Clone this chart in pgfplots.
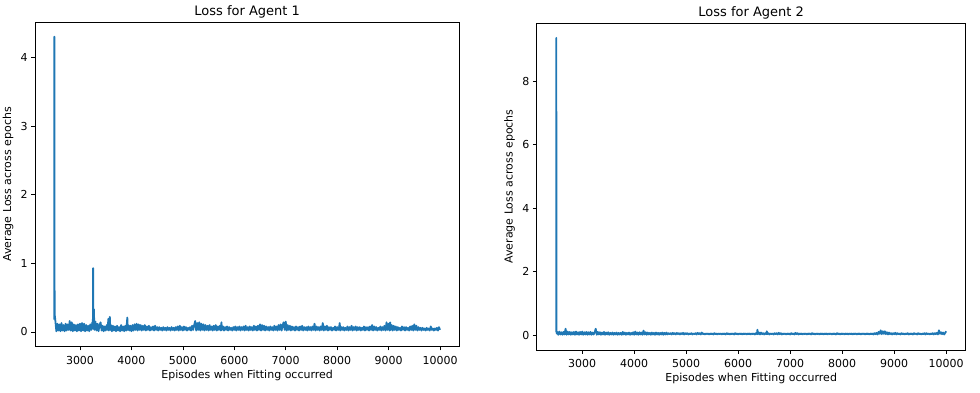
\documentclass[border=0pt]{standalone}
\usepackage{fontspec}
\setmainfont{DejaVu Sans}
\usepackage{pgfplots}
\pgfplotsset{compat=1.18}
\definecolor{mplblue}{HTML}{1F77B4}
\pgfplotsset{
  mplstyle/.style={
    scale only axis,
    anchor=south west,
    xmin=2125, xmax=10375,
    axis line style={black, line width=0.6pt},
    tick align=outside,
    xtick pos=left, ytick pos=left,
    major tick length=3.8pt,
    every tick/.style={black, line width=0.6pt},
    tick label style={font=\fontsize{11}{13}\selectfont},
    xticklabel style={yshift=-2pt},
    label style={font=\fontsize{11}{13}\selectfont},
    every axis title shift=0pt,
    title style={font=\fontsize{13}{15}\selectfont, at={(axis description cs:0.5,1)}, anchor=base, yshift=6pt},
    /pgf/number format/assume math mode=true,
    /pgf/number format/set thousands separator={},
    scaled ticks=false,
    xtick={3000,4000,...,10000},
    xlabel={Episodes when Fitting occurred},
    ylabel={Average Loss across epochs},
    xlabel style={at={(axis description cs:0.5,0)}, anchor=center, yshift=-28.5pt},
    ylabel style={at={(axis description cs:0,0.5)}, anchor=center, yshift=27pt},
  }
}
\begin{document}
\begin{tikzpicture}
\begin{axis}[mplstyle, at={(35pt,46.3pt)}, width=424.3pt, height=324.7pt,
  ymin=-0.215, ymax=4.515, ytick={0,1,2,3,4}, title={Loss for Agent 1}]
\addplot[mplblue, line width=1.8pt, line join=round] coordinates {
(2500,0.18)(2502,4.30)(2505,0.70)(2510,0.24)
(2520,0.17)(2540,0.01)(2560,0.12)(2580,0.02)(2600,0.11)(2620,0.01)(2640,0.13)(2660,0.02)(2680,0.10)(2700,0.01)
(2720,0.12)(2740,0.02)(2760,0.11)(2780,0.03)(2800,0.16)(2820,0.02)(2840,0.14)(2860,0.01)(2880,0.11)(2900,0.02)
(2920,0.10)(2940,0.01)(2960,0.11)(2980,0.02)(3000,0.12)(3020,0.01)(3040,0.13)(3060,0.02)(3080,0.12)(3100,0.01)
(3120,0.10)(3140,0.02)(3160,0.09)(3180,0.01)(3200,0.11)(3220,0.03)(3240,0.14)(3250,0.05)(3255,0.93)(3260,0.10)(3270,0.33)(3280,0.03)
(3300,0.15)(3320,0.02)(3340,0.12)(3360,0.01)(3380,0.10)(3400,0.14)(3420,0.02)(3440,0.09)(3460,0.01)(3480,0.08)
(3500,0.02)(3520,0.10)(3540,0.03)(3550,0.19)(3560,0.02)(3570,0.12)(3580,0.22)(3590,0.03)(3600,0.10)(3620,0.01)
(3640,0.09)(3660,0.02)(3680,0.08)(3700,0.01)(3720,0.09)(3740,0.02)(3760,0.07)(3780,0.01)(3800,0.10)(3820,0.02)
(3840,0.08)(3860,0.01)(3880,0.09)(3900,0.02)(3920,0.21)(3930,0.03)(3940,0.10)(3960,0.02)(3980,0.09)(4000,0.01)
(4020,0.10)(4040,0.02)(4060,0.11)(4080,0.03)(4100,0.12)(4120,0.02)(4140,0.11)(4160,0.03)(4180,0.10)(4200,0.02)
(4220,0.09)(4240,0.03)(4260,0.10)(4280,0.02)(4300,0.08)(4320,0.03)(4340,0.09)(4360,0.02)(4380,0.07)(4400,0.03)
(4420,0.08)(4440,0.02)(4460,0.09)(4480,0.03)(4500,0.07)(4520,0.02)(4540,0.07)(4560,0.03)(4580,0.06)(4600,0.02)
(4620,0.07)(4640,0.03)(4660,0.06)(4680,0.02)(4700,0.07)(4720,0.03)(4740,0.06)(4760,0.02)(4780,0.07)(4800,0.03)
(4820,0.06)(4840,0.02)(4860,0.07)(4880,0.03)(4900,0.08)(4920,0.02)(4940,0.09)(4960,0.03)(4980,0.07)(5000,0.02)
(5020,0.08)(5040,0.03)(5060,0.07)(5080,0.02)(5100,0.06)(5120,0.03)(5140,0.07)(5160,0.02)(5180,0.09)(5200,0.03)
(5220,0.10)(5240,0.16)(5260,0.02)(5280,0.13)(5300,0.03)(5320,0.14)(5340,0.02)(5360,0.12)(5380,0.03)(5400,0.11)
(5420,0.02)(5440,0.10)(5460,0.03)(5480,0.09)(5500,0.02)(5520,0.10)(5540,0.03)(5560,0.08)(5580,0.02)(5600,0.09)
(5620,0.03)(5640,0.10)(5660,0.02)(5680,0.08)(5700,0.03)(5720,0.09)(5740,0.02)(5750,0.14)(5760,0.03)(5780,0.08)
(5800,0.02)(5820,0.07)(5840,0.03)(5860,0.08)(5880,0.02)(5900,0.07)(5920,0.03)(5940,0.06)(5960,0.02)(5980,0.07)
(6000,0.03)(6020,0.08)(6040,0.02)(6060,0.07)(6080,0.03)(6100,0.08)(6120,0.02)(6140,0.07)(6160,0.03)(6180,0.08)
(6200,0.02)(6220,0.09)(6240,0.03)(6260,0.07)(6280,0.02)(6300,0.08)(6320,0.03)(6340,0.07)(6360,0.02)(6380,0.09)
(6400,0.03)(6420,0.08)(6440,0.02)(6460,0.09)(6480,0.03)(6500,0.11)(6520,0.02)(6540,0.10)(6560,0.03)(6580,0.09)
(6600,0.02)(6620,0.08)(6640,0.03)(6660,0.07)(6680,0.02)(6700,0.08)(6720,0.03)(6740,0.07)(6760,0.02)(6780,0.09)
(6800,0.03)(6820,0.08)(6840,0.02)(6860,0.10)(6880,0.03)(6900,0.11)(6920,0.02)(6940,0.10)(6960,0.14)(6980,0.03)
(7000,0.15)(7020,0.02)(7040,0.10)(7060,0.03)(7080,0.09)(7100,0.02)(7120,0.08)(7140,0.03)(7160,0.07)(7180,0.02)
(7200,0.08)(7220,0.03)(7240,0.07)(7260,0.02)(7280,0.08)(7300,0.03)(7320,0.09)(7340,0.02)(7360,0.07)(7380,0.03)
(7400,0.07)(7420,0.02)(7440,0.08)(7460,0.03)(7480,0.07)(7500,0.02)(7520,0.08)(7540,0.03)(7560,0.12)(7580,0.02)
(7600,0.08)(7620,0.03)(7640,0.07)(7660,0.02)(7680,0.08)(7700,0.03)(7720,0.13)(7740,0.02)(7760,0.08)(7780,0.03)
(7800,0.09)(7820,0.02)(7840,0.07)(7860,0.03)(7880,0.07)(7900,0.02)(7920,0.06)(7940,0.03)(7960,0.08)(7980,0.02)
(8000,0.07)(8020,0.03)(8040,0.08)(8050,0.13)(8060,0.02)(8080,0.07)(8100,0.03)(8120,0.07)(8140,0.02)(8160,0.06)
(8180,0.03)(8200,0.08)(8220,0.02)(8240,0.07)(8260,0.03)(8280,0.09)(8300,0.02)(8320,0.07)(8340,0.03)(8360,0.08)
(8380,0.02)(8400,0.07)(8420,0.03)(8440,0.07)(8460,0.02)(8480,0.06)(8500,0.03)(8520,0.08)(8540,0.02)(8560,0.07)
(8580,0.03)(8600,0.07)(8620,0.02)(8640,0.08)(8660,0.03)(8680,0.10)(8700,0.02)(8720,0.08)(8740,0.03)(8760,0.07)
(8780,0.02)(8800,0.06)(8820,0.03)(8840,0.08)(8860,0.02)(8880,0.07)(8900,0.03)(8920,0.09)(8940,0.02)(8960,0.14)
(8980,0.03)(9000,0.12)(9020,0.02)(9030,0.14)(9040,0.03)(9060,0.10)(9080,0.02)(9100,0.09)(9120,0.03)(9140,0.08)
(9160,0.02)(9180,0.07)(9200,0.03)(9220,0.06)(9240,0.02)(9260,0.08)(9280,0.03)(9300,0.07)(9320,0.02)(9340,0.07)
(9360,0.03)(9380,0.06)(9400,0.02)(9420,0.08)(9440,0.03)(9460,0.09)(9480,0.02)(9500,0.11)(9520,0.03)(9540,0.09)
(9560,0.02)(9580,0.07)(9600,0.03)(9620,0.06)(9640,0.02)(9660,0.06)(9680,0.03)(9700,0.05)(9720,0.02)(9740,0.06)
(9760,0.03)(9780,0.05)(9800,0.02)(9820,0.08)(9840,0.03)(9860,0.05)(9880,0.02)(9900,0.05)(9920,0.03)(9940,0.06)
(9960,0.02)(9980,0.07)(10000,0.03)
};
\end{axis}
\begin{axis}[mplstyle, at={(536.7pt,43pt)}, width=429pt, height=327pt,
  ymin=-0.47, ymax=9.84, ytick={0,2,4,6,8}, title={Loss for Agent 2}]
\addplot[mplblue, line width=1.8pt, line join=round] coordinates {
(2500,0.10)(2502,9.37)(2505,0.15)(2510,0.05)
(2520,0.10)(2540,0.01)(2560,0.11)(2580,0.02)(2600,0.09)(2620,0.01)(2640,0.10)(2660,0.02)(2680,0.20)(2700,0.01)
(2720,0.11)(2740,0.02)(2760,0.10)(2780,0.01)(2800,0.09)(2820,0.02)(2840,0.10)(2860,0.01)(2880,0.11)(2900,0.02)
(2920,0.09)(2940,0.01)(2960,0.10)(2980,0.02)(3000,0.11)(3020,0.01)(3040,0.09)(3060,0.02)(3080,0.10)(3100,0.01)
(3120,0.09)(3140,0.02)(3160,0.10)(3180,0.01)(3200,0.08)(3220,0.02)(3240,0.09)(3260,0.20)(3280,0.01)(3300,0.10)
(3320,0.02)(3340,0.09)(3360,0.01)(3380,0.08)(3400,0.02)(3420,0.10)(3440,0.01)(3460,0.08)(3480,0.02)(3500,0.09)
(3520,0.01)(3540,0.07)(3560,0.02)(3580,0.08)(3600,0.01)(3620,0.07)(3640,0.02)(3660,0.08)(3680,0.01)(3700,0.07)
(3720,0.02)(3740,0.07)(3760,0.01)(3780,0.10)(3800,0.02)(3820,0.08)(3840,0.01)(3860,0.07)(3880,0.02)(3900,0.08)
(3920,0.01)(3940,0.07)(3960,0.02)(3980,0.09)(4000,0.01)(4020,0.11)(4040,0.02)(4060,0.08)(4080,0.01)(4100,0.09)
(4120,0.02)(4140,0.08)(4160,0.01)(4180,0.14)(4200,0.02)(4220,0.09)(4240,0.01)(4260,0.08)(4280,0.02)(4300,0.07)
(4320,0.01)(4340,0.08)(4360,0.02)(4380,0.07)(4400,0.01)(4420,0.08)(4440,0.02)(4460,0.07)(4480,0.01)(4500,0.07)
(4520,0.02)(4540,0.08)(4560,0.01)(4580,0.07)(4600,0.02)(4620,0.08)(4640,0.02)(4660,0.06)(4680,0.03)(4700,0.06)
(4720,0.02)(4740,0.07)(4760,0.03)(4780,0.06)(4800,0.02)(4820,0.07)(4840,0.03)(4860,0.06)(4880,0.02)(4900,0.06)
(4920,0.03)(4940,0.07)(4960,0.02)(4980,0.06)(5000,0.03)(5020,0.06)(5040,0.02)(5060,0.05)(5080,0.03)(5100,0.06)
(5120,0.02)(5140,0.05)(5160,0.03)(5180,0.06)(5200,0.02)(5220,0.07)(5240,0.03)(5260,0.06)(5280,0.02)(5300,0.08)
(5320,0.03)(5340,0.05)(5360,0.02)(5380,0.05)(5400,0.03)(5420,0.05)(5440,0.02)(5460,0.05)(5480,0.03)(5500,0.05)
(5520,0.02)(5540,0.06)(5560,0.03)(5580,0.05)(5600,0.02)(5620,0.05)(5640,0.03)(5660,0.05)(5680,0.02)(5700,0.05)
(5720,0.03)(5740,0.05)(5760,0.02)(5780,0.06)(5800,0.03)(5820,0.05)(5840,0.02)(5860,0.05)(5880,0.03)(5900,0.05)
(5920,0.02)(5940,0.06)(5960,0.03)(5980,0.05)(6000,0.02)(6020,0.05)(6040,0.03)(6060,0.05)(6080,0.02)(6100,0.05)
(6120,0.03)(6140,0.05)(6160,0.02)(6180,0.05)(6200,0.03)(6220,0.05)(6240,0.02)(6260,0.05)(6280,0.03)(6300,0.05)
(6320,0.02)(6340,0.06)(6360,0.03)(6370,0.17)(6380,0.03)(6400,0.08)(6420,0.02)(6440,0.08)(6460,0.03)(6480,0.06)
(6500,0.02)(6520,0.06)(6540,0.03)(6550,0.12)(6560,0.03)(6580,0.06)(6600,0.02)(6620,0.05)(6640,0.03)(6660,0.05)
(6680,0.02)(6700,0.06)(6720,0.03)(6740,0.06)(6760,0.02)(6780,0.07)(6800,0.03)(6820,0.06)(6840,0.02)(6860,0.05)
(6880,0.03)(6900,0.05)(6920,0.02)(6940,0.05)(6960,0.03)(6980,0.05)(7000,0.02)(7020,0.06)(7040,0.03)(7060,0.05)
(7080,0.02)(7100,0.07)(7120,0.03)(7140,0.06)(7160,0.02)(7180,0.05)(7200,0.03)(7220,0.05)(7240,0.02)(7260,0.05)
(7280,0.03)(7300,0.05)(7320,0.02)(7340,0.05)(7360,0.03)(7380,0.05)(7400,0.02)(7420,0.06)(7440,0.03)(7460,0.05)
(7480,0.02)(7500,0.05)(7520,0.03)(7540,0.05)(7560,0.02)(7580,0.05)(7600,0.03)(7620,0.05)(7640,0.02)(7660,0.05)
(7680,0.03)(7700,0.05)(7720,0.02)(7740,0.05)(7760,0.03)(7780,0.05)(7800,0.02)(7820,0.05)(7840,0.03)(7860,0.05)
(7880,0.02)(7900,0.06)(7920,0.03)(7940,0.05)(7960,0.02)(7980,0.05)(8000,0.03)(8020,0.05)(8040,0.02)(8060,0.05)
(8080,0.03)(8100,0.05)(8120,0.02)(8140,0.05)(8160,0.03)(8180,0.05)(8200,0.02)(8220,0.05)(8240,0.03)(8260,0.05)
(8280,0.02)(8300,0.05)(8320,0.03)(8340,0.05)(8360,0.02)(8380,0.05)(8400,0.03)(8420,0.05)(8440,0.02)(8460,0.05)
(8480,0.03)(8500,0.05)(8520,0.02)(8540,0.05)(8560,0.03)(8580,0.05)(8600,0.02)(8620,0.06)(8640,0.03)(8660,0.07)
(8680,0.02)(8700,0.10)(8720,0.04)(8740,0.15)(8760,0.03)(8780,0.12)(8800,0.04)(8820,0.12)(8840,0.03)(8860,0.09)
(8880,0.02)(8900,0.08)(8920,0.03)(8940,0.06)(8960,0.02)(8980,0.06)(9000,0.03)(9020,0.07)(9040,0.02)(9060,0.06)
(9080,0.03)(9100,0.05)(9120,0.02)(9140,0.06)(9160,0.03)(9180,0.05)(9200,0.02)(9220,0.05)(9240,0.03)(9260,0.06)
(9280,0.02)(9300,0.05)(9320,0.03)(9340,0.05)(9360,0.02)(9380,0.06)(9400,0.03)(9420,0.05)(9440,0.02)(9460,0.06)
(9480,0.03)(9500,0.05)(9520,0.02)(9540,0.05)(9560,0.03)(9580,0.06)(9600,0.02)(9620,0.06)(9640,0.03)(9660,0.05)
(9680,0.02)(9700,0.05)(9720,0.03)(9740,0.06)(9760,0.02)(9780,0.06)(9800,0.03)(9820,0.07)(9840,0.02)(9860,0.15)
(9880,0.04)(9900,0.09)(9920,0.03)(9940,0.08)(9960,0.02)(9980,0.07)(10000,0.12)
};
\end{axis}
\pgfresetboundingbox
\useasboundingbox (0,0) rectangle (980pt,393pt);
\end{tikzpicture}
\end{document}
